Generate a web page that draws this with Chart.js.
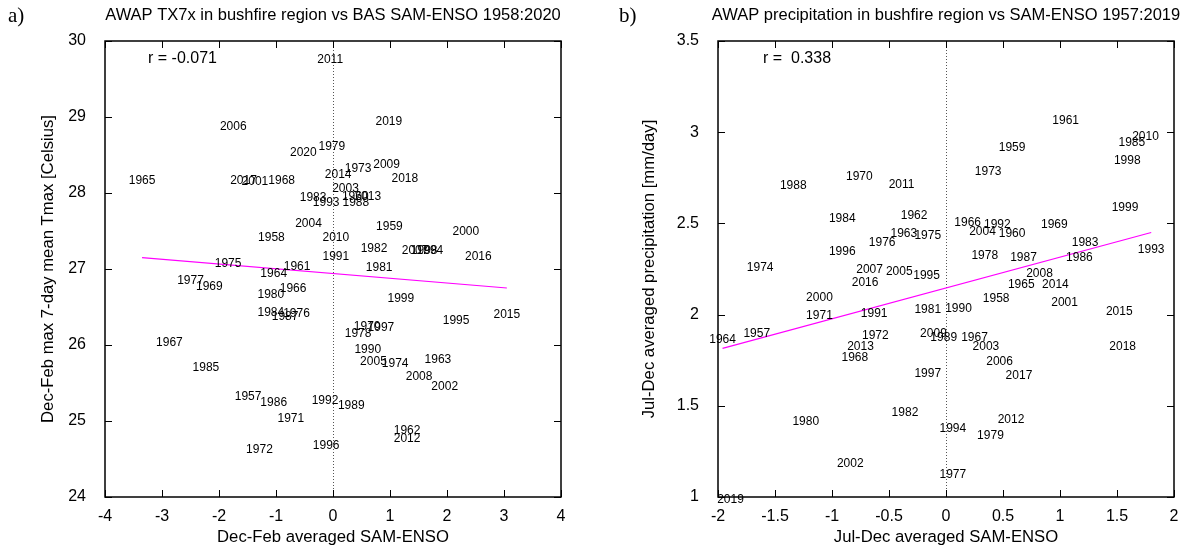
<!DOCTYPE html>
<html><head><meta charset="utf-8">
<script src="https://cdn.jsdelivr.net/npm/chart.js@4"></script>
<style>
html,body{margin:0;padding:0;background:#fff;width:1189px;height:551px;overflow:hidden}
#ca{position:absolute;left:0;top:0}
#cb{position:absolute;left:594px;top:0}
</style></head><body>
<canvas id="ca" width="594" height="551"></canvas>
<canvas id="cb" width="595" height="551"></canvas>
<script>
// ---------- Panel a data ----------
const yearsA = [1957,1958,1959,1960,1961,1962,1963,1964,1965,1966,1967,1968,1969,1970,1971,1972,1973,1974,1975,1976,1977,1978,1979,1980,1981,1982,1983,1984,1985,1986,1987,1988,1989,1990,1991,1992,1993,1994,1995,1996,1997,1998,1999,2000,2001,2002,2003,2004,2005,2006,2007,2008,2009,2010,2011,2012,2013,2014,2015,2016,2017,2018,2019,2020];
const samA = [-1.49,-1.08,0.99,0.39,-0.63,1.30,1.84,-1.04,-3.35,-0.70,-2.87,-0.90,-2.17,0.60,-0.74,-1.29,0.44,1.09,-1.84,-0.64,-2.50,0.44,-0.02,-1.09,0.81,0.72,-0.35,-1.09,-2.23,-1.04,-0.84,0.40,0.32,0.61,0.05,-0.14,-0.12,1.70,2.16,-0.12,0.84,1.60,1.19,2.33,-1.37,1.96,0.22,-0.43,0.71,-1.75,1.44,1.51,0.94,0.05,-0.05,1.30,0.61,0.09,3.05,2.55,-1.57,1.26,0.98,-0.52];
const tx7xA = [25.33,27.43,27.57,27.96,27.05,24.89,25.82,26.95,28.18,26.75,26.05,28.17,26.78,26.25,25.04,24.63,28.33,25.77,27.08,26.42,26.86,26.16,28.62,26.67,27.03,27.28,27.95,26.44,25.72,25.25,26.39,27.88,25.21,25.95,27.18,25.28,27.88,27.26,26.33,24.69,26.24,27.26,26.62,27.50,28.16,25.47,28.07,27.61,25.79,28.89,27.26,25.59,28.38,27.43,29.77,24.78,27.97,28.25,26.41,27.17,28.17,28.20,28.95,28.55];
const fitAX = [-3.35, 3.05];
const fitAY = [27.15, 26.75];
const rA = "r = -0.071";

// ---------- Panel b data ----------
const yearsB = [1957,1958,1959,1960,1961,1962,1963,1964,1965,1966,1967,1968,1969,1970,1971,1972,1973,1974,1975,1976,1977,1978,1979,1980,1981,1982,1983,1984,1985,1986,1987,1988,1989,1990,1991,1992,1993,1994,1995,1996,1997,1998,1999,2000,2001,2002,2003,2004,2005,2006,2007,2008,2009,2010,2011,2012,2013,2014,2015,2016,2017,2018,2019];
const samB = [-1.66,0.44,0.58,0.58,1.05,-0.28,-0.37,-1.96,0.66,0.19,0.25,-0.80,0.95,-0.76,-1.11,-0.62,0.37,-1.63,-0.16,-0.56,0.06,0.34,0.39,-1.23,-0.16,-0.36,1.22,-0.91,1.63,1.17,0.68,-1.34,-0.02,0.11,-0.63,0.45,1.80,0.06,-0.17,-0.91,-0.16,1.59,1.57,-1.11,1.04,-0.84,0.35,0.32,-0.41,0.47,-0.67,0.82,-0.11,1.75,-0.39,0.57,-0.75,0.96,1.52,-0.71,0.64,1.55,-1.89];
const precipB = [1.90,2.09,2.92,2.45,3.07,2.55,2.45,1.87,2.17,2.51,1.88,1.77,2.50,2.76,2.00,1.89,2.79,2.26,2.44,2.40,1.13,2.33,1.34,1.42,2.03,1.47,2.40,2.53,2.95,2.32,2.32,2.71,1.88,2.04,2.01,2.50,2.36,1.38,2.22,2.35,1.68,2.85,2.59,2.10,2.07,1.19,1.83,2.46,2.24,1.75,2.25,2.23,1.90,2.98,2.72,1.43,1.83,2.17,2.02,2.18,1.67,1.83,0.99];
const fitBX = [-1.96, 1.80];
const fitBY = [1.815, 2.45];
const rB = "r =  0.338";

const SANS = "'Liberation Sans', Arial, Helvetica, sans-serif";
const SERIF = "'Liberation Serif', 'Times New Roman', serif";

const panelPlugin = {
  id: 'panel',
  beforeDatasetsDraw(chart) {
    const {ctx, chartArea: a, scales: {x}} = chart;
    const x0 = Math.round(x.getPixelForValue(0)) + 0.5;
    ctx.save();
    ctx.strokeStyle = '#555';
    ctx.lineWidth = 1;
    ctx.setLineDash([1, 2]);
    ctx.beginPath(); ctx.moveTo(x0, a.top); ctx.lineTo(x0, a.bottom); ctx.stroke();
    ctx.restore();
  },
  afterDatasetsDraw(chart, args, o) {
    const {ctx, chartArea: a, scales: {x, y}} = chart;
    ctx.save();
    // year labels
    ctx.fillStyle = '#000';
    ctx.font = '12px ' + SANS;
    ctx.textAlign = 'center';
    ctx.textBaseline = 'middle';
    o.years.forEach((yr, i) => {
      ctx.fillText(String(yr), x.getPixelForValue(o.xs[i]), y.getPixelForValue(o.ys[i]) + 1);
    });
    // border
    ctx.strokeStyle = '#000';
    ctx.lineWidth = 1.5;
    ctx.strokeRect(a.left, a.top, a.right - a.left, a.bottom - a.top);
    // inward ticks on all sides
    ctx.lineWidth = 1;
    const tl = 7;
    ctx.beginPath();
    x.ticks.forEach(t => {
      const px = Math.round(x.getPixelForValue(t.value)) + 0.5;
      ctx.moveTo(px, a.bottom); ctx.lineTo(px, a.bottom - tl);
      ctx.moveTo(px, a.top); ctx.lineTo(px, a.top + tl);
    });
    y.ticks.forEach(t => {
      const py = Math.round(y.getPixelForValue(t.value)) + 0.5;
      ctx.moveTo(a.left, py); ctx.lineTo(a.left + tl, py);
      ctx.moveTo(a.right, py); ctx.lineTo(a.right - tl, py);
    });
    ctx.stroke();
    // r text
    ctx.font = '16px ' + SANS;
    ctx.textAlign = 'left';
    ctx.fillText(o.rText, a.left + o.rOffset, a.top + 18);
    // title
    const cx = (a.left + a.right) / 2;
    ctx.textAlign = 'center';
    ctx.font = '16.5px ' + SANS;
    ctx.fillText(o.title, cx, 15);
    // panel letter
    ctx.textAlign = 'left';
    ctx.font = '21px ' + SERIF;
    ctx.fillText(o.letter, o.letterX, 16);
    // axis titles
    ctx.font = '16.7px ' + SANS;
    ctx.textAlign = 'center';
    ctx.fillText(o.xTitle, cx, 537);
    ctx.save();
    ctx.translate(o.yTitleX, (a.top + a.bottom) / 2);
    ctx.rotate(-Math.PI / 2);
    ctx.fillText(o.yTitle, 0, 0);
    ctx.restore();
    ctx.restore();
  }
};

function makeChart(id, cfg) {
  const pts = cfg.xs.map((v, i) => ({x: v, y: cfg.ys[i]}));
  const fit = cfg.fitX.map((v, i) => ({x: v, y: cfg.fitY[i]}));
  return new Chart(document.getElementById(id), {
    type: 'scatter',
    data: {
      datasets: [
        {data: pts, pointRadius: 0, pointHoverRadius: 0, showLine: false},
        {data: fit, showLine: true, borderColor: '#ff00ff', borderWidth: 1.2, pointRadius: 0, fill: false}
      ]
    },
    options: {
      responsive: false,
      animation: false,
      events: [],
      layout: {padding: {top: 41, right: cfg.padRight, left: 0, bottom: 0}},
      plugins: {
        legend: {display: false},
        tooltip: {enabled: false},
        panel: {years: cfg.years, xs: cfg.xs, ys: cfg.ys, rText: cfg.rText, rOffset: cfg.rOffset,
                title: cfg.title, letter: cfg.letter, letterX: cfg.letterX,
                xTitle: cfg.xTitle, yTitle: cfg.yTitle, yTitleX: cfg.yTitleX}
      },
      scales: {
        x: {
          type: 'linear', min: cfg.xMin, max: cfg.xMax,
          grid: {display: false}, border: {display: false},
          ticks: {stepSize: cfg.xStep, color: '#000', padding: 2, font: {size: 16, family: SANS},
                  maxRotation: 0, autoSkip: false, callback: v => String(v)},
          afterFit: s => { s.height = 54; }
        },
        y: {
          type: 'linear', min: cfg.yMin, max: cfg.yMax,
          grid: {display: false}, border: {display: false},
          ticks: {stepSize: cfg.yStep, color: '#000', padding: 11, font: {size: 16, family: SANS},
                  autoSkip: false, callback: v => String(v)},
          afterFit: s => { s.width = cfg.yWidth; }
        }
      }
    },
    plugins: [panelPlugin]
  });
}

makeChart('ca', {
  years: yearsA, xs: samA, ys: tx7xA, fitX: fitAX, fitY: fitAY, rText: rA, rOffset: 43,
  title: 'AWAP TX7x in bushfire region vs BAS SAM-ENSO 1958:2020', letter: 'a)', letterX: 8,
  xTitle: 'Dec-Feb averaged SAM-ENSO', yTitle: 'Dec-Feb max 7-day mean Tmax [Celsius]', yTitleX: 48,
  xMin: -4, xMax: 4, xStep: 1, yMin: 24, yMax: 30, yStep: 1, yWidth: 105, padRight: 33
});
makeChart('cb', {
  years: yearsB, xs: samB, ys: precipB, fitX: fitBX, fitY: fitBY, rText: rB, rOffset: 45,
  title: 'AWAP precipitation in bushfire region vs SAM-ENSO 1957:2019', letter: 'b)', letterX: 25,
  xTitle: 'Jul-Dec averaged SAM-ENSO', yTitle: 'Jul-Dec averaged precipitation [mm/day]', yTitleX: 55,
  xMin: -2, xMax: 2, xStep: 0.5, yMin: 1, yMax: 3.5, yStep: 0.5, yWidth: 124, padRight: 15
});
</script>
</body></html>
